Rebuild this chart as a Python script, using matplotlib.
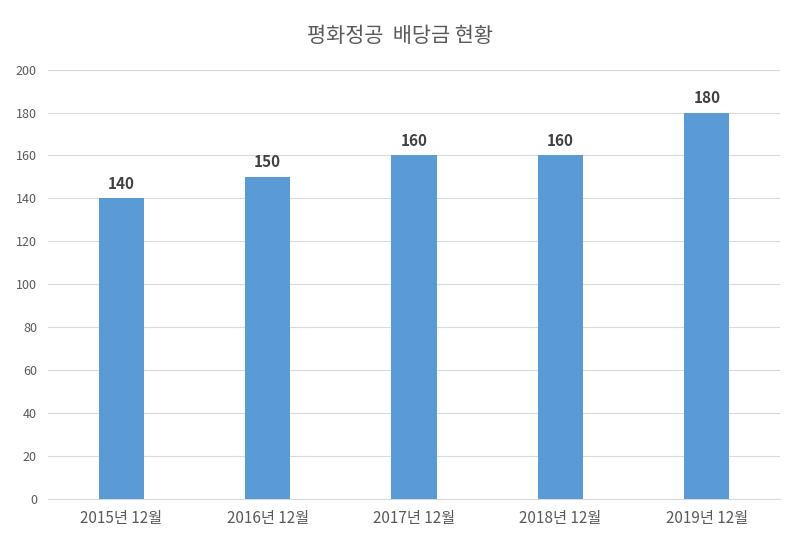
import matplotlib
matplotlib.use("Agg")
import matplotlib.pyplot as plt

plt.rcParams['font.family'] = ['Noto Sans CJK KR', 'DejaVu Sans']

categories = ["2015년 12월", "2016년 12월", "2017년 12월", "2018년 12월", "2019년 12월"]
values = [140, 150, 160, 160, 180]
yticks = [0, 20, 40, 60, 80, 100, 120, 140, 160, 180, 200]

fig = plt.figure(figsize=(8, 5.57), dpi=100)
ax = fig.add_axes([0.06, 0.105, 0.915, 0.77])
x = range(len(categories))
bars = ax.bar(x, values, width=0.31, color="#5B9BD5", zorder=3)
for xi, v in zip(x, values):
    ax.text(xi, v + 3, str(v), ha="center", va="bottom", fontsize=11, fontweight="bold", color="#404040")
ax.set_xticks(list(x))
ax.set_xticklabels(categories, fontsize=11, color="#595959")
ax.set_yticks(yticks)
ax.set_yticklabels([str(t) for t in yticks], fontsize=9, color="#595959")
ax.set_ylim(0, 200)
ax.set_xlim(-0.5, 4.5)
ax.grid(axis="y", color="#D9D9D9", linewidth=0.8, zorder=0)
for s in ["top", "right", "left"]:
    ax.spines[s].set_visible(False)
ax.spines["bottom"].set_color("#D9D9D9")
ax.tick_params(length=0, pad=8)
fig.suptitle("평화정공  배당금 현황", y=0.955, fontsize=15, color="#595959")
fig.savefig("out.png")
